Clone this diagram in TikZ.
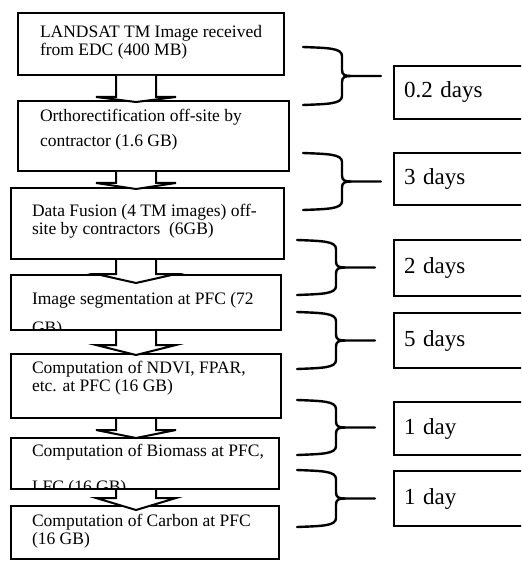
\documentclass[tikz,border=0pt]{standalone}
\usepackage{fontspec}
\setmainfont{Liberation Serif}

\newcommand{\flowarrow}[4]{%
  \path (#1.south -| ax) coordinate (s) (#2.north -| ax) coordinate (t);
  \draw[flowarr] ([xshift=-20pt]s) -- ([xshift=-20pt,yshift=#3pt]t) -- ([xshift=-40pt,yshift=#3pt]t)
    -- ([yshift=-#4pt]t) -- ([xshift=40pt,yshift=#3pt]t) -- ([xshift=20pt,yshift=#3pt]t) -- ([xshift=20pt]s);
}
\newcommand{\timebrace}[3]{%
  \pgfmathsetmacro{\bmid}{(#2+#3)/2}
  \draw[curly] (#1-39,#2) .. controls (#1-14,#2+1) and (#1,#2+1) .. (#1,#2+9) -- (#1,\bmid-6)
    .. controls (#1,\bmid-1) and (#1+3,\bmid) .. (#1+9,\bmid) -- (#1+39,\bmid);
  \draw[curly] (#1-39,#3) .. controls (#1-14,#3-1) and (#1,#3-1) .. (#1,#3-9) -- (#1,\bmid+6)
    .. controls (#1,\bmid+1) and (#1+3,\bmid) .. (#1+9,\bmid);
}

\begin{document}
\begin{tikzpicture}[
    x=1pt, y=-1pt,
    stepbox/.style={draw, line width=2pt, fill=white, anchor=north west, inner sep=0pt},
    steptext/.style={anchor=base west, align=left, inner sep=0pt, minimum width=0pt, minimum height=0pt,
      font=\fontsize{17.5}{18}\selectfont},
    daybox/.style={draw, line width=2pt, anchor=north west, minimum width=150, text width=130,
      align=left, inner xsep=10pt, inner ysep=0pt, font=\fontsize{23}{26}\selectfont},
    flowarr/.style={draw, line width=2pt, fill=white, line join=miter},
    curly/.style={line width=2.4pt, line cap=round}
  ]
    \useasboundingbox (0,0) rectangle (521,561);
    \clip (0,0) rectangle (521,561);
    \coordinate (ax) at (136,0);

    \node[stepbox, minimum width=266, minimum height=62, path picture={\node[steptext] at ([xshift=21pt,yshift=-43pt]path picture bounding box.north west) {LANDSAT TM Image received\\from EDC (400 MB)};}] (landsat) at (17,12) {};
    \node[stepbox, minimum width=271, minimum height=70, path picture={\node[steptext] at ([xshift=21pt,yshift=-46pt]path picture bounding box.north west) {Orthorectification off-site by\\[7pt]contractor (1.6 GB)};}] (ortho) at (17,100) {};
    \node[stepbox, minimum width=273, minimum height=71, path picture={\node[steptext] at ([xshift=20pt,yshift=-46pt]path picture bounding box.north west) {Data Fusion (4 TM images) off-\\site by contractors~ (6GB)};}] (fusion) at (10,187) {};
    \node[stepbox, minimum width=270, minimum height=55, path picture={\node[steptext] at ([xshift=20pt,yshift=-58pt]path picture bounding box.north west) {Image segmentation at PFC (72\\[11pt]GB)};}] (segment) at (10,274) {};
    \node[stepbox, minimum width=270, minimum height=64, path picture={\node[steptext] at ([xshift=20pt,yshift=-37pt]path picture bounding box.north west) {Computation of NDVI, FPAR,\\etc. at PFC (16 GB)};}] (ndvi) at (10,353) {};
    \node[stepbox, minimum width=268, minimum height=51, path picture={\node[steptext] at ([xshift=20pt,yshift=-54pt]path picture bounding box.north west) {Computation of Biomass at PFC,\\[18pt]LFC (16 GB)};}] (biomass) at (10,437) {};
    \node[stepbox, minimum width=268, minimum height=53, path picture={\node[steptext] at ([xshift=20pt,yshift=-38pt]path picture bounding box.north west) {Computation of Carbon at PFC\\(16 GB)};}] (carbon) at (10,505) {};

    \flowarrow{landsat}{ortho}{3}{2}
    \flowarrow{ortho}{fusion}{4}{2}
    \flowarrow{fusion}{segment}{0}{9}
    \flowarrow{segment}{ndvi}{8}{2}
    \flowarrow{ndvi}{biomass}{7}{1}
    \flowarrow{biomass}{carbon}{7}{5}

    \timebrace{342}{47}{105}
    \timebrace{342}{153}{210}
    \timebrace{336}{240}{295}
    \timebrace{336}{312}{369}
    \timebrace{336}{400}{455}
    \timebrace{336}{470}{527}

    \node[daybox, minimum height=53] (day1) at (393,65) {0.2 days};
    \node[daybox, minimum height=52] (day2) at (393,152) {3 days};
    \node[daybox, minimum height=56] (day3) at (393,239) {2 days};
    \node[daybox, minimum height=55] (day4) at (393,312) {5 days};
    \node[daybox, minimum height=53] (day5) at (393,401) {1 day};
    \node[daybox, minimum height=55] (day6) at (393,470) {1 day};
  \end{tikzpicture}
\end{document}
